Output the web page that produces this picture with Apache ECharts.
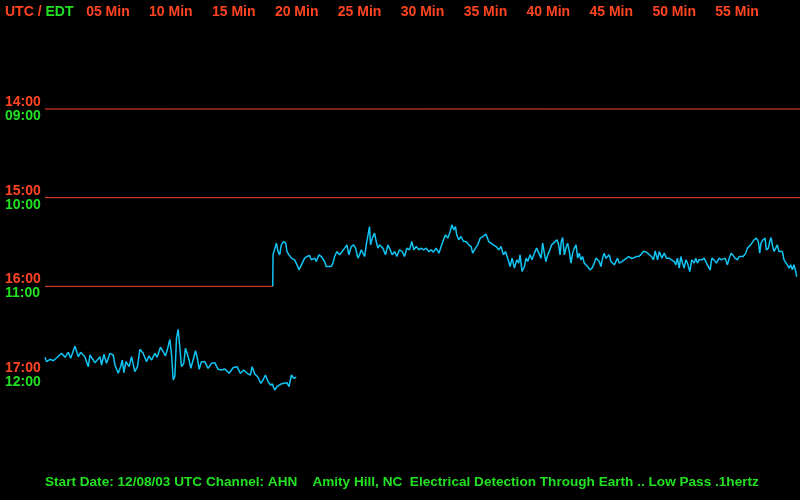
<!DOCTYPE html>
<html>
<head>
<meta charset="utf-8">
<script src="https://cdn.jsdelivr.net/npm/echarts@6/dist/echarts.min.js"></script>
<style>
html,body{margin:0;padding:0;background:#000;}
#chart{width:800px;height:500px;}
</style>
</head>
<body>
<div id="chart"></div>
<script>
// ---- data ----
const minuteTicks = ['05 Min','10 Min','15 Min','20 Min','25 Min','30 Min','35 Min','40 Min','45 Min','50 Min','55 Min'];
const rowsUTC = ['14:00','15:00','16:00','17:00'];
const rowsEDT = ['09:00','10:00','11:00','12:00'];
const rowHours = [14, 15, 16, 17];
const unitsPerRow = 88.67;          // trace amplitude units that span one row
const start16 = 18.10;              // minute at which the 16:00 trace starts

const t16 = [18.12,18.39,18.52,18.65,18.78,18.97,19.13,19.23,19.39,19.58,19.71,19.84,20.03,20.18,20.29,20.45,20.63,20.82,21.03,21.16,21.30,21.43,21.56,21.77,21.96,22.22,22.35,22.49,22.75,22.88,23.02,23.20,23.41,23.62,23.81,23.99,24.15,24.34,24.52,24.68,24.87,25.00,25.13,25.26,25.40,25.53,25.66,25.79,25.87,26.01,26.19,26.32,26.46,26.59,26.72,26.85,27.06,27.25,27.43,27.59,27.78,27.96,28.17,28.39,28.57,28.76,28.97,29.15,29.31,29.50,29.71,29.89,30.08,30.29,30.50,30.69,30.87,31.08,31.30,31.48,31.67,31.83,32.01,32.20,32.33,32.49,32.62,32.72,32.88,33.07,33.25,33.47,33.68,33.86,33.99,34.21,34.39,34.58,34.79,35.05,35.26,35.45,35.63,35.85,36.06,36.24,36.43,36.59,36.77,36.96,37.12,37.30,37.49,37.65,37.75,37.91,38.10,38.23,38.36,38.55,38.70,38.89,39.07,39.42,39.55,39.68,39.81,39.95,40.13,40.26,40.42,40.56,40.69,40.82,40.93,41.03,41.14,41.27,41.40,41.53,41.67,41.80,41.93,42.06,42.20,42.33,42.46,42.59,42.72,42.86,42.99,43.12,43.31,43.47,43.65,43.78,43.92,44.05,44.18,44.31,44.44,44.58,44.71,44.84,44.97,45.11,45.24,45.37,45.50,45.63,45.85,46.03,46.22,46.38,46.56,46.75,46.96,47.17,47.35,47.54,47.70,47.88,48.02,48.20,48.36,48.49,48.68,48.81,49.02,49.21,49.39,49.60,49.79,50.00,50.13,50.26,50.40,50.53,50.66,50.79,50.93,51.06,51.24,51.40,51.59,51.72,51.85,51.98,52.20,52.38,52.57,52.72,52.86,52.99,53.17,53.36,53.57,53.76,53.89,54.05,54.23,54.42,54.55,54.68,54.84,55.03,55.16,55.29,55.48,55.69,55.82,55.95,56.08,56.22,56.35,56.53,56.69,56.80,56.90,57.06,57.22,57.33,57.49,57.59,57.70,57.80,57.94,58.07,58.20,58.33,58.47,58.60,58.73,58.86,58.99,59.13,59.26,59.39,59.52,59.66,59.74];
const a16 = [31.5,43.2,34.8,31.5,41.5,44.8,43.2,34.8,31.5,28.2,29.8,26.5,21.5,16.5,18.2,23.2,28.2,29.8,30.8,26.5,24.8,28.2,24.8,31.5,29.8,24.8,19.8,21.5,19.8,23.2,29.8,34.8,31.5,34.8,38.2,41.5,31.5,39.8,41.5,38.2,28.2,31.5,36.5,34.8,29.8,41.5,43.2,59.8,41.5,48.2,53.2,44.8,38.2,41.5,39.8,38.2,31.5,41.5,36.5,31.5,34.8,29.8,36.5,34.8,29.8,38.2,36.5,44.8,36.5,39.8,36.5,38.2,36.5,38.2,34.8,36.5,34.2,38.2,33.2,39.8,46.5,51.5,48.2,54.8,61.5,56.5,59.8,51.5,46.5,49.8,44.8,44.8,41.5,39.8,33.2,38.2,41.5,48.2,49.8,52.2,44.8,43.2,41.5,39.8,36.5,39.8,31.5,34.8,28.2,19.8,28.2,18.2,26.5,23.2,31.5,14.8,19.8,28.2,24.8,31.5,26.5,33.2,38.2,28.2,43.2,33.2,24.8,31.5,36.5,41.5,43.2,44.8,46.5,41.5,31.5,44.8,48.8,31.5,38.2,43.2,34.8,23.2,33.2,38.2,41.5,28.2,33.2,26.5,29.8,23.2,21.5,19.8,16.5,18.2,23.2,28.2,26.5,24.8,19.8,28.2,33.2,28.2,26.5,31.5,24.8,24.8,21.5,23.2,28.2,23.2,24.8,26.5,28.2,29.8,28.2,28.2,29.8,29.8,31.5,34.8,34.8,33.2,34.8,29.8,26.5,35.5,26.5,34.8,28.2,33.2,28.2,28.2,26.5,24.8,21.5,28.2,18.2,29.8,23.2,18.2,26.5,23.2,14.8,26.5,23.2,28.2,23.2,26.5,26.5,28.2,23.2,19.8,16.5,28.2,26.5,23.2,28.2,26.5,24.8,28.2,21.5,29.8,33.2,31.5,28.2,26.5,29.8,28.2,29.8,33.2,38.2,36.5,41.5,43.2,46.5,48.2,44.8,33.2,43.2,46.5,48.2,36.5,38.2,44.8,48.8,41.5,34.8,36.5,41.5,34.8,36.5,34.8,26.5,24.8,21.5,18.2,21.5,16.5,21.5,14.8,9.8];

const t17 = [0.00,0.13,0.40,0.66,0.93,1.32,1.59,1.85,2.04,2.38,2.65,2.83,3.17,3.44,3.57,3.97,4.37,4.50,4.68,4.89,5.16,5.42,5.56,5.82,6.01,6.14,6.27,6.43,6.69,6.88,7.14,7.35,7.54,7.80,8.07,8.25,8.47,8.73,8.91,9.18,9.39,9.57,9.73,9.92,10.05,10.19,10.32,10.45,10.58,10.71,10.85,11.03,11.16,11.29,11.45,11.59,11.77,11.96,12.11,12.25,12.43,12.70,12.96,13.23,13.49,13.76,14.02,14.29,14.63,14.95,15.26,15.53,15.79,16.06,16.32,16.46,16.67,16.93,17.14,17.33,17.52,17.73,17.91,18.07,18.25,18.44,18.71,18.97,19.23,19.39,19.58,19.76,19.97];
const a17 = [17.7,13.3,15.7,14.3,17.3,21.7,17.7,22.7,16.7,28.7,18.3,22.7,18.3,8.3,20.0,12.3,18.3,10.0,20.7,11.7,21.7,20.0,10.0,1.7,8.3,15.0,2.3,13.3,8.3,18.3,3.3,8.3,25.7,21.7,13.3,19.0,15.0,21.7,17.7,27.7,23.3,19.0,25.7,35.7,21.7,-5.0,-1.0,36.7,45.7,28.3,8.3,11.7,26.7,21.7,15.0,6.7,15.0,24.3,16.7,5.7,13.3,13.3,6.7,11.7,12.3,5.7,5.0,6.0,1.7,7.3,8.3,1.7,5.0,1.7,0.0,8.3,1.0,-2.3,-8.3,-5.0,0.0,-6.7,-10.0,-9.0,-15.0,-11.7,-9.3,-8.3,-7.7,-11.7,0.0,-3.3,-2.3];

const footerText = 'Start Date: 12/08/03 UTC Channel: AHN    Amity Hill, NC  Electrical Detection Through Earth .. Low Pass .1hertz';

// ---- styles ----
const RED = '#ff4422';
const GREEN = '#22e022';
const CYAN = '#10c4f4';
const FONT = 'Liberation Sans';

function toRow(row, times, amps) {
  return times.map((t, i) => [t, row - amps[i] / unitsPerRow]);
}

const trace16 = [[start16, 16]].concat(toRow(16, t16, a16));
const trace17 = toRow(17, t17, a17);

const redLine = (data) => ({
  type: 'line', data, symbol: 'none', silent: true,
  lineStyle: { color: RED, width: 1 }, animation: false
});

const chart = echarts.init(document.getElementById('chart'), null, { renderer: 'canvas' });
chart.setOption({
  backgroundColor: '#000',
  animation: false,
  grid: { left: 45, top: 20.333, width: 756, height: 443.333, containLabel: false },
  xAxis: {
    type: 'value', min: 0, max: 60, interval: 5, position: 'top',
    axisLine: { show: false }, axisTick: { show: false }, splitLine: { show: false },
    axisLabel: {
      color: RED, fontFamily: FONT, fontWeight: 'bold', fontSize: 14,
      margin: 8, verticalAlign: 'middle',
      showMinLabel: false, showMaxLabel: false,
      formatter: v => (v > 0 && v < 60) ? minuteTicks[Math.round(v / 5) - 1] : ''
    }
  },
  yAxis: {
    type: 'value', min: 13, max: 18, interval: 1, inverse: true,
    axisLine: { show: false }, axisTick: { show: false }, splitLine: { show: false },
    axisLabel: {
      align: 'left', margin: 40, verticalAlign: 'middle',
      showMinLabel: false, showMaxLabel: false,
      formatter: v => {
        const i = rowHours.indexOf(Math.round(v));
        return i < 0 ? '' : '{u|' + rowsUTC[i] + '}\n{e|' + rowsEDT[i] + '}';
      },
      rich: {
        u: { color: RED, fontFamily: FONT, fontWeight: 'bold', fontSize: 14, lineHeight: 14 },
        e: { color: GREEN, fontFamily: FONT, fontWeight: 'bold', fontSize: 14, lineHeight: 14 }
      }
    }
  },
  graphic: [
    {
      type: 'text', left: 5, top: 5,
      style: {
        text: '{r|UTC / }{g|EDT}',
        rich: {
          r: { fill: RED, fontFamily: FONT, fontWeight: 'bold', fontSize: 14 },
          g: { fill: GREEN, fontFamily: FONT, fontWeight: 'bold', fontSize: 14 }
        }
      }
    },
    {
      type: 'text', left: 45, top: 475,
      style: { text: footerText, fill: GREEN, font: 'bold 13.6px "Liberation Sans"' }
    }
  ],
  series: [
    redLine([[0, 14], [60, 14]]),
    redLine([[0, 15], [60, 15]]),
    redLine([[0, 16], [start16, 16]]),
    {
      type: 'line', data: trace16, symbol: 'none', silent: true,
      lineStyle: { color: CYAN, width: 1.5 }
    },
    {
      type: 'line', data: trace17, symbol: 'none', silent: true,
      lineStyle: { color: CYAN, width: 1.5 }
    }
  ]
});
</script>
</body>
</html>
